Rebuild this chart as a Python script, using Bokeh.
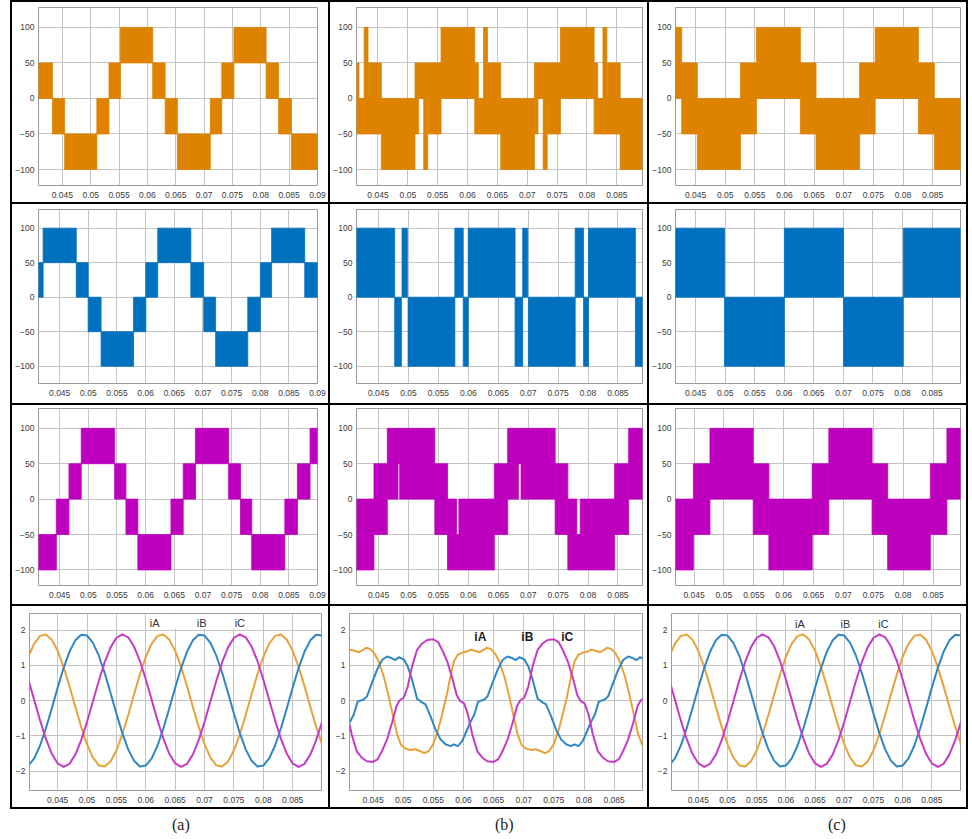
from bokeh.plotting import figure
from bokeh.models import Range1d, NumeralTickFormatter, ColumnDataSource, Label, BoxAnnotation, Div, Spacer
from bokeh.layouts import row, column
from bokeh.embed import file_html
from bokeh.resources import INLINE

# ---------------- data ----------------
X_TICKS = [0.045, 0.05, 0.055, 0.06, 0.065, 0.07, 0.075, 0.08, 0.085, 0.09]
PWM_Y_TICKS = [-100, -50, 0, 50, 100]
CUR_Y_TICKS = [-2, -1, 0, 1, 2]
COLUMN_LABELS = ["(a)", "(b)", "(c)"]
PHASE_LABELS = ["iA", "iB", "iC"]

# PWM band segments: (t_start, t_end, low, high)
a1_segments = [
    (0.0405, 0.04326, 0, 50), (0.04326, 0.04541, -50, 0), (0.04541, 0.05109, -100, -50),
    (0.05109, 0.05323, -50, 0), (0.05323, 0.05526, 0, 50), (0.05526, 0.06094, 50, 100),
    (0.06094, 0.06314, 0, 50), (0.06314, 0.06529, -50, 0), (0.06529, 0.07109, -100, -50),
    (0.07109, 0.07312, -50, 0), (0.07312, 0.07526, 0, 50), (0.07526, 0.08094, 50, 100),
    (0.08094, 0.08314, 0, 50), (0.08314, 0.08540, -50, 0), (0.08540, 0.0905, -100, -50),
]
b1_segments = [
    (0.0405, 0.04182, -50, 50), (0.04182, 0.04340, -50, 0), (0.04268, 0.04333, 0, 100),
    (0.04340, 0.04556, -50, 50), (0.04556, 0.05120, -100, 0), (0.05120, 0.05180, -50, 50),
    (0.05180, 0.05340, 0, 50), (0.05266, 0.05333, -100, 0), (0.05340, 0.05556, -50, 50),
    (0.05556, 0.06120, 0, 100), (0.06120, 0.06180, -50, 50), (0.06180, 0.06340, -50, 0),
    (0.06268, 0.06333, 0, 100), (0.06340, 0.06556, -50, 50), (0.06556, 0.07120, -100, 0),
    (0.07120, 0.07180, -50, 50), (0.07180, 0.07340, 0, 50), (0.07266, 0.07333, -100, 0),
    (0.07340, 0.07556, -50, 50), (0.07556, 0.08120, 0, 100), (0.08120, 0.08180, -50, 50),
    (0.08180, 0.08340, -50, 0), (0.08268, 0.08333, 0, 100), (0.08340, 0.08556, -50, 50),
    (0.08556, 0.0905, -100, 0),
]
c1_segments = [
    (0.0405, 0.04265, 0, 100), (0.04265, 0.04528, -50, 50), (0.04528, 0.05258, -100, 0),
    (0.05258, 0.05527, -50, 50), (0.05527, 0.06268, 0, 100), (0.06268, 0.06532, -50, 50),
    (0.06532, 0.07267, -100, 0), (0.07267, 0.07530, -50, 50), (0.07530, 0.08260, 0, 100),
    (0.08260, 0.08529, -50, 50), (0.08529, 0.0905, -100, 0),
]
a2_segments = [
    (0.0405, 0.04211, 0, 50), (0.04211, 0.04789, 50, 100), (0.04789, 0.04997, 0, 50),
    (0.04997, 0.05223, -50, 0), (0.05223, 0.05789, -100, -50), (0.05789, 0.06003, -50, 0),
    (0.06003, 0.06211, 0, 50), (0.06211, 0.06789, 50, 100), (0.06789, 0.07014, 0, 50),
    (0.07014, 0.07222, -50, 0), (0.07222, 0.07783, -100, -50), (0.07783, 0.08003, -50, 0),
    (0.08003, 0.08199, 0, 50), (0.08199, 0.08777, 50, 100), (0.08777, 0.0905, 0, 50),
]
b2_segments = [
    (0.0405, 0.04768, 0, 100), (0.04768, 0.04880, -100, 0), (0.04891, 0.04980, 0, 100),
    (0.04992, 0.05774, -100, 0), (0.05774, 0.05914, 0, 100), (0.05914, 0.05997, -100, 0),
    (0.05997, 0.06780, 0, 100), (0.06780, 0.06908, -100, 0), (0.06908, 0.06992, 0, 100),
    (0.07003, 0.07785, -100, 0), (0.07785, 0.07925, 0, 100), (0.07925, 0.08008, -100, 0),
    (0.08008, 0.08791, 0, 100), (0.08791, 0.0905, -100, 0),
]
c2_segments = [
    (0.0405, 0.04989, 0, 100), (0.04989, 0.06001, -100, 0), (0.06001, 0.07001, 0, 100),
    (0.07001, 0.08013, -100, 0), (0.08013, 0.0905, 0, 100),
]
a3_segments = [
    (0.0405, 0.04442, -100, -50), (0.04442, 0.04662, -50, 0), (0.04662, 0.04876, 0, 50),
    (0.04876, 0.05459, 50, 100), (0.05459, 0.05656, 0, 50), (0.05656, 0.05864, -50, 0),
    (0.05864, 0.06442, -100, -50), (0.06442, 0.06656, -50, 0), (0.06656, 0.06870, 0, 50),
    (0.06870, 0.07448, 50, 100), (0.07448, 0.07656, 0, 50), (0.07656, 0.07852, -50, 0),
    (0.07852, 0.08430, -100, -50), (0.08430, 0.08650, -50, 0), (0.08650, 0.08870, 0, 50),
    (0.08870, 0.0905, 50, 100),
]
b3_segments = [
    (0.0405, 0.04422, -100, 0), (0.04422, 0.04645, -50, 50), (0.04645, 0.04824, 0, 100),
    (0.04824, 0.04852, 50, 100), (0.04852, 0.05439, 0, 100), (0.05439, 0.05651, -50, 50),
    (0.05651, 0.05802, -100, 0), (0.05802, 0.05841, -100, -50), (0.05841, 0.06433, -100, 0),
    (0.06433, 0.06657, -50, 50), (0.06657, 0.06835, 0, 100), (0.06835, 0.06880, 50, 100),
    (0.06880, 0.07450, 0, 100), (0.07450, 0.07662, -50, 50), (0.07662, 0.07813, -100, 0),
    (0.07813, 0.07869, -100, -50), (0.07869, 0.08444, -100, 0), (0.08444, 0.08679, -50, 50),
    (0.08679, 0.0905, 0, 100),
]
c3_segments = [
    (0.0405, 0.04489, -100, 0), (0.04489, 0.04767, -50, 50), (0.04767, 0.05491, 0, 100),
    (0.05491, 0.05753, -50, 50), (0.05753, 0.06478, -100, 0), (0.06478, 0.06756, -50, 50),
    (0.06756, 0.07480, 0, 100), (0.07480, 0.07741, -50, 50), (0.07741, 0.08455, -100, 0),
    (0.08455, 0.08733, -50, 50), (0.08733, 0.0905, 0, 100),
]

# Phase currents, columns (a) and (c)
t_sine = [0.040, 0.041, 0.042, 0.043, 0.044, 0.045, 0.046, 0.047, 0.048, 0.049,
          0.050, 0.051, 0.052, 0.053, 0.054, 0.055, 0.056, 0.057, 0.058, 0.059,
          0.060, 0.061, 0.062, 0.063, 0.064, 0.065, 0.066, 0.067, 0.068, 0.069,
          0.070, 0.071, 0.072, 0.073, 0.074, 0.075, 0.076, 0.077, 0.078, 0.079,
          0.080, 0.081, 0.082, 0.083, 0.084, 0.085, 0.086, 0.087, 0.088, 0.089, 0.090]
ia_sine = [1.243, 1.618, 1.835, 1.872, 1.725, 1.410, 0.957, 0.410, -0.177, -0.747,
           -1.243, -1.618, -1.835, -1.872, -1.725, -1.410, -0.957, -0.410, 0.177, 0.747,
           1.243, 1.618, 1.835, 1.872, 1.725, 1.410, 0.957, 0.410, -0.177, -0.747,
           -1.243, -1.618, -1.835, -1.872, -1.725, -1.410, -0.957, -0.410, 0.177, 0.747,
           1.243, 1.618, 1.835, 1.872, 1.725, 1.410, 0.957, 0.410, -0.177, -0.747, -1.243]
ib_sine = [-1.843, -1.638, -1.273, -0.783, -0.216, 0.372, 0.923, 1.384, 1.709, 1.868,
           1.843, 1.638, 1.273, 0.783, 0.216, -0.372, -0.923, -1.384, -1.709, -1.868,
           -1.843, -1.638, -1.273, -0.783, -0.216, 0.372, 0.923, 1.384, 1.709, 1.868,
           1.843, 1.638, 1.273, 0.783, 0.216, -0.372, -0.923, -1.384, -1.709, -1.868,
           -1.843, -1.638, -1.273, -0.783, -0.216, 0.372, 0.923, 1.384, 1.709, 1.868, 1.843]
ic_sine = [0.600, 0.020, -0.562, -1.089, -1.509, -1.782, -1.880, -1.794, -1.532, -1.121,
           -0.600, -0.020, 0.562, 1.089, 1.509, 1.782, 1.880, 1.794, 1.532, 1.121,
           0.600, 0.020, -0.562, -1.089, -1.509, -1.782, -1.880, -1.794, -1.532, -1.121,
           -0.600, -0.020, 0.562, 1.089, 1.509, 1.782, 1.880, 1.794, 1.532, 1.121,
           0.600, 0.020, -0.562, -1.089, -1.509, -1.782, -1.880, -1.794, -1.532, -1.121, -0.600]

# Phase currents, column (b) (distorted)
ia_b_t = [0.04112, 0.04179, 0.04262, 0.04334, 0.04389, 0.04456, 0.04522, 0.04594, 0.04677, 0.04760,
          0.04832, 0.04899, 0.04965, 0.05037, 0.05120, 0.05204, 0.05276, 0.05353, 0.05425, 0.05497,
          0.05575, 0.05647, 0.05719, 0.05785, 0.05841, 0.05907, 0.05979, 0.06062,
          0.06112, 0.06179, 0.06262, 0.06334, 0.06389, 0.06456, 0.06522, 0.06594, 0.06677, 0.06760,
          0.06832, 0.06899, 0.06965, 0.07037, 0.07120, 0.07204, 0.07276, 0.07353, 0.07425, 0.07497,
          0.07575, 0.07647, 0.07719, 0.07785, 0.07841, 0.07907, 0.07979, 0.08062,
          0.08112, 0.08179, 0.08262, 0.08334, 0.08389, 0.08456, 0.08522, 0.08594, 0.08677, 0.08760,
          0.08832, 0.08899, 0.08965, 0.09037]
ia_b = [1.44, 1.42, 1.37, 1.44, 1.50, 1.46, 1.34, 1.11, 0.69, 0.12,
        -0.44, -0.96, -1.26, -1.36, -1.40, -1.38, -1.43, -1.49, -1.43, -1.24,
        -0.86, -0.39, 0.12, 0.69, 1.11, 1.30, 1.36, 1.39,
        1.44, 1.42, 1.37, 1.44, 1.50, 1.46, 1.34, 1.11, 0.69, 0.12,
        -0.44, -0.96, -1.26, -1.36, -1.40, -1.38, -1.43, -1.49, -1.43, -1.24,
        -0.86, -0.39, 0.12, 0.69, 1.11, 1.30, 1.36, 1.39,
        1.44, 1.42, 1.37, 1.44, 1.50, 1.46, 1.34, 1.11, 0.69, 0.12,
        -0.44, -0.96, -1.26, -1.36]
ib_b_t = [0.04112, 0.04179, 0.04245, 0.04345, 0.04400, 0.04483, 0.04566, 0.04650, 0.04733, 0.04816,
          0.04871, 0.04927, 0.05010, 0.05076, 0.05148, 0.05231, 0.05287, 0.05370, 0.05453, 0.05536,
          0.05619, 0.05702, 0.05785, 0.05841, 0.05907, 0.05979, 0.06062,
          0.06112, 0.06179, 0.06245, 0.06345, 0.06400, 0.06483, 0.06566, 0.06650, 0.06733, 0.06816,
          0.06871, 0.06927, 0.07010, 0.07076, 0.07148, 0.07231, 0.07287, 0.07370, 0.07453, 0.07536,
          0.07619, 0.07702, 0.07785, 0.07841, 0.07907, 0.07979, 0.08062,
          0.08112, 0.08179, 0.08245, 0.08345, 0.08400, 0.08483, 0.08566, 0.08650, 0.08733, 0.08816,
          0.08871, 0.08927, 0.09010]
ib_b = [-0.62, -0.40, -0.03, 0.03, 0.12, 0.50, 0.87, 1.15, 1.25, 1.20,
        1.15, 1.23, 1.17, 0.97, 0.59, 0.05, -0.02, -0.11, -0.44, -0.82,
        -1.10, -1.24, -1.29, -1.24, -1.29, -1.15, -0.82,
        -0.62, -0.40, -0.03, 0.03, 0.12, 0.50, 0.87, 1.15, 1.25, 1.20,
        1.15, 1.23, 1.17, 0.97, 0.59, 0.05, -0.02, -0.11, -0.44, -0.82,
        -1.10, -1.24, -1.29, -1.24, -1.29, -1.15, -0.82,
        -0.62, -0.40, -0.03, 0.03, 0.12, 0.50, 0.87, 1.15, 1.25, 1.20,
        1.15, 1.23, 1.17]
ic_b_t = [0.04112, 0.04148, 0.04231, 0.04314, 0.04397, 0.04500, 0.04578, 0.04650, 0.04733, 0.04816,
          0.04888, 0.04943, 0.05010, 0.05076, 0.05148, 0.05231, 0.05314, 0.05397, 0.05500,
          0.05578, 0.05650, 0.05733, 0.05816, 0.05888, 0.05943, 0.06010, 0.06076, 0.06148,
          0.06231, 0.06314, 0.06397, 0.06500, 0.06578, 0.06650, 0.06733, 0.06816,
          0.06888, 0.06943, 0.07010, 0.07076, 0.07148, 0.07231, 0.07314, 0.07397, 0.07500,
          0.07578, 0.07650, 0.07733, 0.07816, 0.07888, 0.07943, 0.08010, 0.08076, 0.08148,
          0.08231, 0.08314, 0.08397, 0.08500, 0.08578, 0.08650, 0.08733, 0.08816,
          0.08888, 0.08943, 0.09010]
ic_b = [-0.68, -0.97, -1.44, -1.62, -1.72, -1.74, -1.66, -1.43, -1.10, -0.63,
        -0.16, 0.01, 0.08, 0.40, 0.97, 1.44, 1.62, 1.72, 1.74,
        1.66, 1.43, 1.10, 0.63, 0.16, -0.01, -0.08, -0.40, -0.97,
        -1.44, -1.62, -1.72, -1.74, -1.66, -1.43, -1.10, -0.63,
        -0.16, 0.01, 0.08, 0.40, 0.97, 1.44, 1.62, 1.72, 1.74,
        1.66, 1.43, 1.10, 0.63, 0.16, -0.01, -0.08, -0.40, -0.97,
        -1.44, -1.62, -1.72, -1.74, -1.66, -1.43, -1.10, -0.63,
        -0.16, 0.01, 0.08]

# ---------------- styling ----------------
ORANGE_FILL = "#DD8300"
BLUE_FILL = "#0071BE"
MAGENTA_FILL = "#BE00BE"
ORANGE_LINE = "#E9A23B"
BLUE_LINE = "#2F86C2"
MAGENTA_LINE = "#C63BC6"

LEFT_MARGIN = 10
BAR = 2
COL_W = [316, 317, 317]
ROW_H = [200, 199, 199, 201]
MB_LEFT = [[24, 26, 26], [24, 26, 26], [24, 26, 26], [17, 19, 22]]
MB_RIGHT = [[11, 5, 6], [11, 5, 6], [11, 5, 6], [7, 5, 6]]
MB_TOP = [5, 5, 3, 7]
MB_BOTTOM = [17, 20, 19, 17]
X_RANGES = [
    [(0.0408, 0.0900), (0.0414, 0.0893), (0.0416, 0.0897)],
    [(0.0413, 0.0900), (0.0413, 0.0891), (0.0416, 0.0898)],
    [(0.0413, 0.0900), (0.0413, 0.0891), (0.0419, 0.0896)],
    [(0.0402, 0.0899), (0.0411, 0.0897), (0.0404, 0.0899)],
]
Y_RANGES = [(-122.5, 128), (-125, 127), (-122, 128), (-2.55, 2.47)]


def make_fig(r, c):
    p = figure(width=COL_W[c], height=ROW_H[r],
               x_range=Range1d(*X_RANGES[r][c]), y_range=Range1d(*Y_RANGES[r]),
               output_backend="svg", toolbar_location=None,
               min_border_left=MB_LEFT[r][c], min_border_right=MB_RIGHT[r][c],
               min_border_top=MB_TOP[r], min_border_bottom=MB_BOTTOM[r])
    p.background_fill_color = "white"
    p.border_fill_color = "white"
    p.outline_line_color = "#9a9a9a"
    p.outline_line_width = 1
    p.xaxis.ticker = X_TICKS
    p.yaxis.ticker = CUR_Y_TICKS if r == 3 else PWM_Y_TICKS
    p.xaxis.formatter = NumeralTickFormatter(format="0.[000]")
    for ax in (p.xaxis[0], p.yaxis[0]):
        ax.major_tick_out = 0
        ax.major_tick_in = 0
        ax.minor_tick_out = 0
        ax.minor_tick_in = 0
        ax.axis_line_color = None
        ax.major_label_text_font = "Liberation Sans"
        ax.major_label_text_font_size = "8.5px"
        ax.major_label_text_color = "#3a3a3a"
    p.xaxis.major_label_standoff = 6
    p.yaxis.major_label_standoff = 4
    p.grid.grid_line_color = "#c4c4c4"
    p.grid.grid_line_width = 1
    return p


def add_pwm(p, segments, color):
    src = ColumnDataSource(dict(
        left=[s[0] for s in segments], right=[s[1] for s in segments],
        bottom=[s[2] for s in segments], top=[s[3] for s in segments]))
    p.quad(left="left", right="right", bottom="bottom", top="top", source=src,
           fill_color=color, line_color=color, line_width=0.8)


BLACK = {"background-color": "black"}
GRID_W = BAR * 4 + sum(COL_W)


def vbar(h):
    return Spacer(width=BAR, height=h, styles=BLACK)


def hbar():
    return Spacer(width=GRID_W, height=BAR, styles=BLACK)


pwm_rows = [
    [(a1_segments, ORANGE_FILL), (b1_segments, ORANGE_FILL), (c1_segments, ORANGE_FILL)],
    [(a2_segments, BLUE_FILL), (b2_segments, BLUE_FILL), (c2_segments, BLUE_FILL)],
    [(a3_segments, MAGENTA_FILL), (b3_segments, MAGENTA_FILL), (c3_segments, MAGENTA_FILL)],
]

grid_items = [hbar()]
for r in range(3):
    items = [vbar(ROW_H[r])]
    for c in range(3):
        p = make_fig(r, c)
        segs, colr = pwm_rows[r][c]
        add_pwm(p, segs, colr)
        items += [p, vbar(ROW_H[r])]
    grid_items += [row(*items, spacing=0), hbar()]

# current plots
current_sets = [
    [(t_sine, ia_sine), (t_sine, ib_sine), (t_sine, ic_sine)],
    [(ia_b_t, ia_b), (ib_b_t, ib_b), (ic_b_t, ic_b)],
    [(t_sine, ia_sine), (t_sine, ib_sine), (t_sine, ic_sine)],
]
line_colors = [ORANGE_LINE, BLUE_LINE, MAGENTA_LINE]
label_pos = [
    [(0.0615, 2.2), (0.0695, 2.2), (0.0760, 2.2)],
    [(0.0628, 1.81), (0.0706, 1.81), (0.0772, 1.81)],
    [(0.0624, 2.18), (0.0702, 2.18), (0.0767, 2.18)],
]
label_box = [(0.0603, 0.0790), None, (0.0610, 0.0786)]

items = [vbar(ROW_H[3])]
for c in range(3):
    p = make_fig(3, c)
    if label_box[c] is not None:
        p.add_layout(BoxAnnotation(left=label_box[c][0], right=label_box[c][1], bottom=2.04, top=2.44,
                                   fill_color="white", fill_alpha=1.0, line_color=None))
    for k in range(3):
        tx, vy = current_sets[c][k]
        p.line(tx, vy, line_color=line_colors[k], line_width=2, line_join="round")
    for k in range(3):
        lx, ly = label_pos[c][k]
        p.add_layout(Label(x=lx, y=ly, text=PHASE_LABELS[k], text_align="center",
                           text_baseline="middle", text_font="Liberation Sans",
                           text_font_size="12px" if c == 1 else "11px",
                           text_font_style="bold" if c == 1 else "normal",
                           text_color="#1a1a1a" if c == 1 else "#333333"))
    items += [p, vbar(ROW_H[3])]
grid_items += [row(*items, spacing=0), hbar()]

grid = column(*grid_items, spacing=0)

# column captions
caption_w = [LEFT_MARGIN + BAR + COL_W[0] + BAR, COL_W[1] + BAR, COL_W[2] + BAR]
caption_pad = [167, 150, 154]
caption_divs = []
for c in range(3):
    caption_divs.append(Div(
        text='<div style="font-family:\'Liberation Serif\',\'Times New Roman\',serif;'
             'font-size:16px;line-height:18px;color:#222;padding-top:2px;padding-left:%dpx;'
             'white-space:nowrap">%s</div>'
             % (caption_pad[c], COLUMN_LABELS[c]),
        width=caption_w[c], height=28))

layout = column(row(Spacer(width=LEFT_MARGIN, height=10), grid, spacing=0),
                row(*caption_divs, spacing=0), spacing=0)
open("out.html", "w").write(file_html(layout, INLINE))
